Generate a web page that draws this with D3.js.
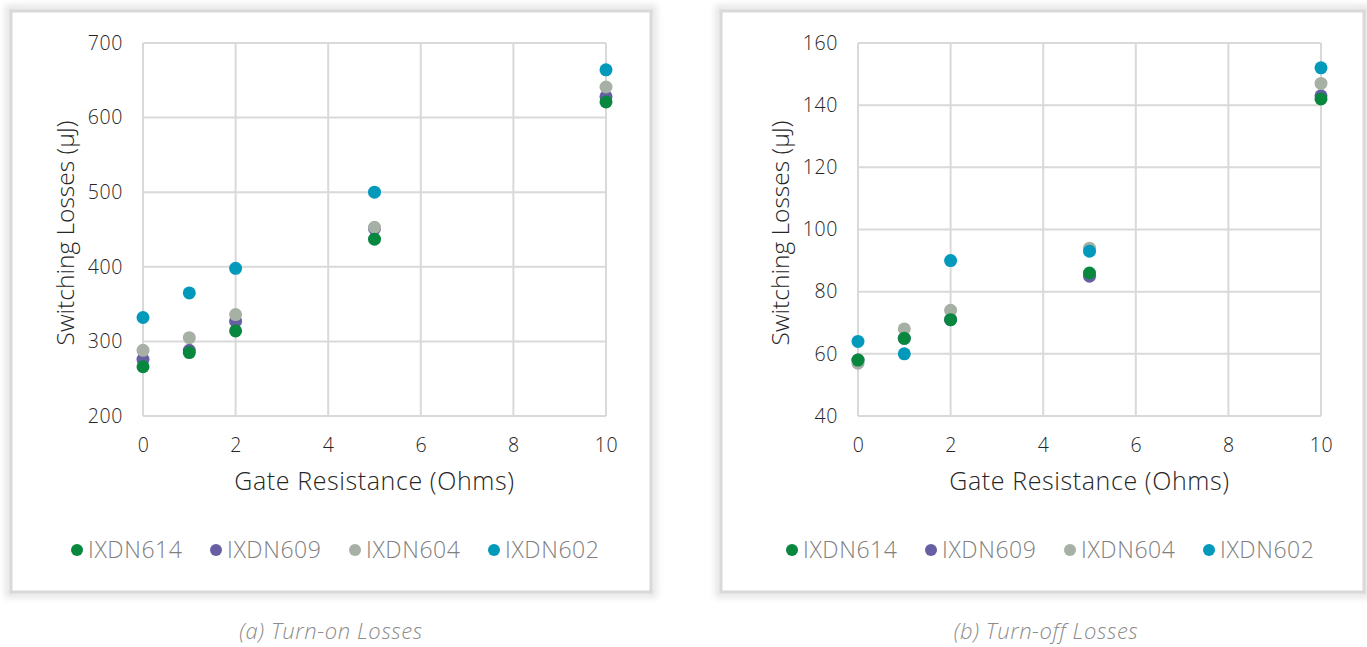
<!DOCTYPE html>
<html>
<head>
<meta charset="utf-8">
<script src="https://cdn.jsdelivr.net/npm/d3@7/dist/d3.min.js"></script>
<style>
  html, body { margin: 0; padding: 0; background: #fff; }
  svg { display: block; font-family: "Open Sans", Roboto, sans-serif; }
</style>
</head>
<body>
<svg width="1367" height="647"></svg>
<script>
// данные: сопротивление затвора (Ом)
const gateR = [0, 1, 2, 5, 10];

const seriesNames = ["IXDN614", "IXDN609", "IXDN604", "IXDN602"];
const seriesColors = ["#08873f", "#665fa3", "#a6b0a5", "#0299bb"];

// потери при включении (мкДж)
const onIXDN614 = [266, 285, 314, 437, 621];
const onIXDN609 = [276, 288, 327, 451, 628];
const onIXDN604 = [288, 305, 336, 453, 641];
const onIXDN602 = [332, 365, 398, 500, 664];

// потери при выключении (мкДж)
const offIXDN614 = [58, 65, 71, 86, 142];
const offIXDN609 = [58, 65, 71, 85, 143];
const offIXDN604 = [57, 68, 74, 94, 147];
const offIXDN602 = [64, 60, 90, 93, 152];

const xTicks = [0, 2, 4, 6, 8, 10];
const onTicks = [200, 300, 400, 500, 600, 700];
const offTicks = [40, 60, 80, 100, 120, 140, 160];

const FONT = "'Open Sans', Roboto, sans-serif";
const svg = d3.select("svg");

// мягкая тень вокруг рамки
const defs = svg.append("defs");
defs.append("filter")
    .attr("id", "soft")
    .attr("x", "-5%").attr("y", "-5%")
    .attr("width", "110%").attr("height", "110%")
  .append("feGaussianBlur")
    .attr("stdDeviation", 3);

const panels = [
    {
        frame: {x: 11, y: 11, w: 640, h: 581},
        xRange: [143, 606],
        yDomain: [200, 700],
        yTicks: onTicks,
        series: [onIXDN614, onIXDN609, onIXDN604, onIXDN602],
        legendX: 77,
        caption: "(a) Turn-on Losses",
        captionX: 331
    },
    {
        frame: {x: 721, y: 11, w: 643, h: 581},
        xRange: [858, 1321],
        yDomain: [40, 160],
        yTicks: offTicks,
        series: [offIXDN614, offIXDN609, offIXDN604, offIXDN602],
        legendX: 792,
        caption: "(b) Turn-off Losses",
        captionX: 1046
    }
];

// порядок отрисовки точек: синие и зелёные сверху
const drawOrder = [1, 2, 0, 3];

panels.forEach(p => {
    const g = svg.append("g");
    const f = p.frame;

    g.append("rect")
        .attr("x", f.x - 2).attr("y", f.y - 2)
        .attr("width", f.w + 4).attr("height", f.h + 4)
        .attr("fill", "none")
        .attr("stroke", "#e6e6e6")
        .attr("stroke-width", 8)
        .attr("filter", "url(#soft)");
    g.append("rect")
        .attr("x", f.x).attr("y", f.y)
        .attr("width", f.w).attr("height", f.h)
        .attr("fill", "#fff")
        .attr("stroke", "#d9d9d9")
        .attr("stroke-width", 3);

    const x = d3.scaleLinear().domain([0, 10]).range(p.xRange);
    const y = d3.scaleLinear().domain(p.yDomain).range([416, 43]);

    // сетка
    g.selectAll(".vgrid").data(xTicks).join("line")
        .attr("x1", d => x(d)).attr("x2", d => x(d))
        .attr("y1", y.range()[0]).attr("y2", y.range()[1])
        .attr("stroke", "#d9d9d9").attr("stroke-width", 2);
    g.selectAll(".hgrid").data(p.yTicks).join("line")
        .attr("x1", p.xRange[0]).attr("x2", p.xRange[1])
        .attr("y1", d => y(d)).attr("y2", d => y(d))
        .attr("stroke", "#d9d9d9").attr("stroke-width", 2);

    // оси
    const ax = g.append("g")
        .attr("transform", "translate(0, 452)")
        .call(d3.axisBottom(x).tickValues(xTicks).tickSize(0).tickPadding(0));
    const ay = g.append("g")
        .attr("transform", `translate(${p.xRange[0] - 20}, 0)`)
        .call(d3.axisLeft(y).tickValues(p.yTicks).tickSize(0).tickPadding(0));
    [ax, ay].forEach(a => {
        a.select(".domain").remove();
        a.selectAll("text")
            .attr("font-family", FONT)
            .attr("font-size", 19.5)
            .attr("font-weight", 300)
            .attr("letter-spacing", 0.6)
            .attr("fill", "#262626");
    });
    ax.selectAll("text").attr("y", 0).attr("dy", 0);

    // подписи осей
    const cx = (p.xRange[0] + p.xRange[1]) / 2;
    g.append("text")
        .attr("x", cx).attr("y", 490)
        .attr("text-anchor", "middle")
        .attr("font-size", 25).attr("font-weight", 300)
        .attr("letter-spacing", 0.6)
        .attr("fill", "#262626")
        .text("Gate Resistance (Ohms)");
    g.append("text")
        .attr("transform", `translate(${p.xRange[0] - 78}, 233) rotate(-90)`)
        .attr("dy", "0.35em")
        .attr("text-anchor", "middle")
        .attr("font-size", 24.5).attr("font-weight", 300)
        .attr("fill", "#262626")
        .text("Switching Losses (μJ)");

    // точки
    drawOrder.forEach(si => {
        const vals = p.series[si];
        g.append("g").selectAll("circle").data(gateR).join("circle")
            .attr("cx", d => x(d))
            .attr("cy", (d, i) => y(vals[i]))
            .attr("r", 6.5)
            .attr("fill", seriesColors[si]);
    });

    // легенда
    const leg = g.append("g").attr("transform", `translate(${p.legendX}, 550)`);
    seriesNames.forEach((name, i) => {
        const item = leg.append("g").attr("transform", `translate(${i * 139}, 0)`);
        item.append("circle").attr("r", 6).attr("fill", seriesColors[i]);
        item.append("text")
            .attr("x", 11).attr("dy", "0.36em")
            .attr("font-size", 23).attr("font-weight", 300)
            .attr("letter-spacing", 0.6)
            .attr("fill", "#808080")
            .text(name);
    });

    // подпись рисунка
    svg.append("text")
        .attr("x", p.captionX).attr("y", 639)
        .attr("text-anchor", "middle")
        .attr("font-size", 22).attr("font-weight", 300)
        .attr("font-style", "italic")
        .attr("letter-spacing", 0.6)
        .attr("fill", "#8c8c8c")
        .text(p.caption);
});
</script>
</body>
</html>
